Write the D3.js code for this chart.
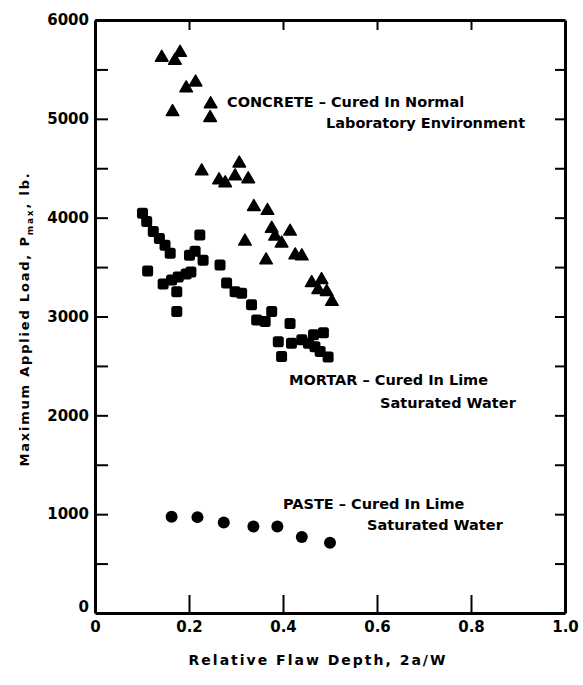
<!DOCTYPE html>
<html>
<head>
<meta charset="utf-8">
<script src="https://cdn.jsdelivr.net/npm/d3@7"></script>
<style>
  html, body { margin: 0; padding: 0; background: #fff; }
  svg { display: block; }
  text { font-family: "DejaVu Sans", sans-serif; font-weight: bold; fill: #000; }
</style>
</head>
<body>
<svg id="chart" width="583" height="685"></svg>
<script>
// ---- data ----
const concreteX = [0.142,0.170,0.181,0.194,0.214,0.165,0.246,0.245,0.227,0.307,0.264,0.277,0.298,0.326,0.338,0.367,0.376,0.383,0.397,0.415,0.319,0.364,0.426,0.440,0.461,0.482,0.475,0.493,0.504];
const concreteY = [5620,5590,5670,5310,5370,5070,5150,5010,4470,4550,4380,4350,4420,4390,4110,4070,3890,3810,3740,3860,3760,3570,3620,3610,3340,3370,3270,3250,3150];

const mortarX = [0.101,0.110,0.124,0.137,0.149,0.160,0.223,0.112,0.145,0.163,0.174,0.174,0.177,0.194,0.201,0.213,0.230,0.204,0.266,0.280,0.298,0.312,0.333,0.344,0.376,0.362,0.415,0.390,0.397,0.418,0.440,0.465,0.486,0.479,0.496,0.468,0.454];
const mortarY = [4045,3960,3860,3790,3720,3640,3825,3460,3330,3370,3250,3050,3400,3430,3620,3660,3570,3450,3520,3340,3250,3235,3120,2965,3050,2950,2930,2745,2595,2730,2765,2815,2835,2645,2590,2695,2730];

const pasteX = [0.163,0.218,0.274,0.337,0.388,0.440,0.500];
const pasteY = [975,970,915,875,875,770,710];

const xTicks = [0,0.2,0.4,0.6,0.8,1.0];
const xTickLabels = ["0","0.2","0.4","0.6","0.8","1.0"];
const yTicksMinor = [0,500,1000,1500,2000,2500,3000,3500,4000,4500,5000,5500,6000];
const yTickLabels = ["0","1000","2000","3000","4000","5000","6000"];

const xTitle = "Relative Flaw Depth, 2a/W";
const seriesLabels = [
  ["CONCRETE \u2013 Cured In Normal", "Laboratory Environment"],
  ["MORTAR \u2013 Cured In Lime", "Saturated Water"],
  ["PASTE \u2013 Cured In Lime", "Saturated Water"]
];

// ---- layout ----
const L = 95, R = 565, T = 20, B = 613;
const svg = d3.select("#chart");
const x = d3.scaleLinear().domain([0, 1]).range([L, R]);
const y = d3.scaleLinear().domain([0, 6000]).range([B, T]);

function styleAxis(g, fontSize) {
  g.select(".domain").attr("stroke", "#000").attr("stroke-width", 3);
  g.selectAll(".tick line").attr("stroke", "#000").attr("stroke-width", 2);
  g.selectAll(".tick text").style("font-size", fontSize + "px")
    .style("font-family", "'DejaVu Sans', sans-serif").style("font-weight", "bold");
  g.attr("font-family", null).attr("font-size", null);
}

// bottom axis
const gb = svg.append("g").attr("transform", `translate(0,${B})`)
  .call(d3.axisBottom(x).tickValues(xTicks)
    .tickFormat((d, i) => xTickLabels[i])
    .tickSizeInner(-18).tickSizeOuter(0).tickPadding(8));
styleAxis(gb, 15);

// left axis
const gl = svg.append("g").attr("transform", `translate(${L},0)`)
  .call(d3.axisLeft(y).tickValues(yTicksMinor)
    .tickFormat(d => (d % 1000 === 0 ? yTickLabels[d / 1000] : ""))
    .tickSizeInner(-13).tickSizeOuter(0).tickPadding(6));
styleAxis(gl, 15);
gl.selectAll(".tick").filter(d => d === 0).select("line").remove();
gl.selectAll(".tick").filter(d => d === 0).select("text").attr("dy", "-0.1em");

// top axis
const gt = svg.append("g").attr("transform", `translate(0,${T})`)
  .call(d3.axisTop(x).tickValues(xTicks.slice(1, -1)).tickFormat("")
    .tickSizeInner(-10).tickSizeOuter(0));
styleAxis(gt, 15);

// right axis
const gr = svg.append("g").attr("transform", `translate(${R},0)`)
  .call(d3.axisLeft(y).tickValues(yTicksMinor.slice(1, -1)).tickFormat("")
    .tickSizeInner(10).tickSizeOuter(0));
styleAxis(gr, 15);

// ---- marks ----
const tri = d3.symbol().type(d3.symbolTriangle).size(68);
svg.append("g").selectAll("path").data(concreteX.map((d, i) => [d, concreteY[i]]))
  .join("path").attr("d", tri)
  .attr("transform", d => `translate(${x(d[0])},${y(d[1])})`)
  .attr("fill", "#000").attr("stroke", "#000").attr("stroke-width", 1.5).attr("stroke-linejoin", "round");

svg.append("g").selectAll("rect").data(mortarX.map((d, i) => [d, mortarY[i]]))
  .join("rect")
  .attr("x", d => x(d[0]) - 5.5).attr("y", d => y(d[1]) - 5.5)
  .attr("width", 11).attr("height", 11).attr("rx", 2.5)
  .attr("fill", "#000");

svg.append("g").selectAll("circle").data(pasteX.map((d, i) => [d, pasteY[i]]))
  .join("circle")
  .attr("cx", d => x(d[0])).attr("cy", d => y(d[1])).attr("r", 6)
  .attr("fill", "#000");

// ---- series labels ----
const labelPos = [
  [[227, 107], [326, 128]],
  [[289, 385], [380, 408]],
  [[283, 509], [367, 530]]
];
seriesLabels.forEach((lines, i) => {
  lines.forEach((t, j) => {
    svg.append("text").attr("x", labelPos[i][j][0]).attr("y", labelPos[i][j][1])
      .style("font-size", "14.5px").text(t);
  });
});

// ---- axis titles ----
svg.append("text").attr("x", 318).attr("y", 665).attr("text-anchor", "middle")
  .style("font-size", "14px").style("letter-spacing", "2px").text(xTitle);

const yt = svg.append("text").attr("transform", "translate(29,319) rotate(-90)")
  .attr("text-anchor", "middle").style("font-size", "13px").style("letter-spacing", "1.8px");
yt.append("tspan").text("Maximum Applied Load, P");
yt.append("tspan").attr("dy", 4).style("font-size", "9px").text("max");
yt.append("tspan").attr("dy", -4).text(",  lb.");
</script>
</body>
</html>
